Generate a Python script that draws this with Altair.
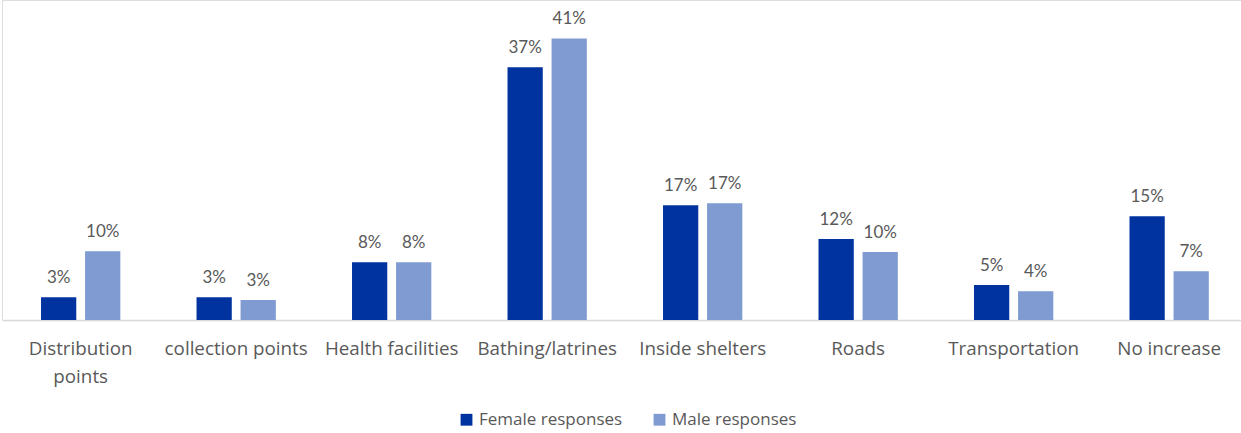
import altair as alt
import pandas as pd

categories = ["Distribution points", "collection points", "Health facilities", "Bathing/latrines",
              "Inside shelters", "Roads", "Transportation", "No increase"]
female = [3.3, 3.3, 8.4, 36.8, 16.7, 11.8, 5.1, 15.1]
male = [10.0, 2.9, 8.4, 41.0, 17.0, 9.9, 4.2, 7.1]
female_labels = ["3%", "3%", "8%", "37%", "17%", "12%", "5%", "15%"]
male_labels = ["10%", "3%", "8%", "41%", "17%", "10%", "4%", "7%"]
series = ["Female responses", "Male responses"]

rows = []
for i, c in enumerate(categories):
    rows.append({"cat": c, "series": series[0], "v": female[i], "lab": female_labels[i]})
    rows.append({"cat": c, "series": series[1], "v": male[i], "lab": male_labels[i]})
df = pd.DataFrame(rows)

FONT = "Open Sans"
GRAY = "#595959"

x = alt.X("cat:N", sort=categories, title=None,
          scale=alt.Scale(paddingInner=0.49, paddingOuter=0.229, align=0.548),
          axis=alt.Axis(labelAngle=0, ticks=False, domainColor="#d9d9d9", domainWidth=1.5,
                        labelFont=FONT, labelFontSize=18.8, labelColor=GRAY, labelPadding=19,
                        labelLineHeight=28, labelBaseline="top", labelLimit=300,
                        labelExpr="datum.value == 'Distribution points' ? ['Distribution', 'points'] : datum.value"))
xo = alt.XOffset("series:N", sort=series, scale=alt.Scale(paddingInner=0.2, paddingOuter=0))
y = alt.Y("v:Q", title=None, scale=alt.Scale(domain=[0, 46.6], nice=False, zero=True), axis=None)

bars = alt.Chart(df).mark_bar().encode(
    x=x, xOffset=xo, y=y,
    color=alt.Color("series:N", sort=series,
                    scale=alt.Scale(domain=series, range=["#0032A0", "#7F9BD1"]),
                    legend=alt.Legend(title=None, orient="none", direction="horizontal",
                                      legendX=456, legendY=411, symbolType="square",
                                      symbolSize=140, symbolStrokeWidth=0,
                                      labelFont=FONT, labelFontSize=17, labelColor=GRAY,
                                      columnPadding=28, labelOffset=4))
)

text = alt.Chart(df).mark_text(baseline="bottom", dy=-10, font="Lato", fontSize=17, color=GRAY).encode(
    x=x, xOffset=xo, y=y, text="lab:N"
)

chart = (bars + text).properties(
    width=1239, height=320,
    autosize=alt.AutoSizeParams(type="none"),
    padding={"left": 2, "top": 0, "right": 0, "bottom": 113},
).configure_view(stroke=None).configure(background="white")

chart.save("out.html", embed_options={"renderer": "svg", "actions": False})
